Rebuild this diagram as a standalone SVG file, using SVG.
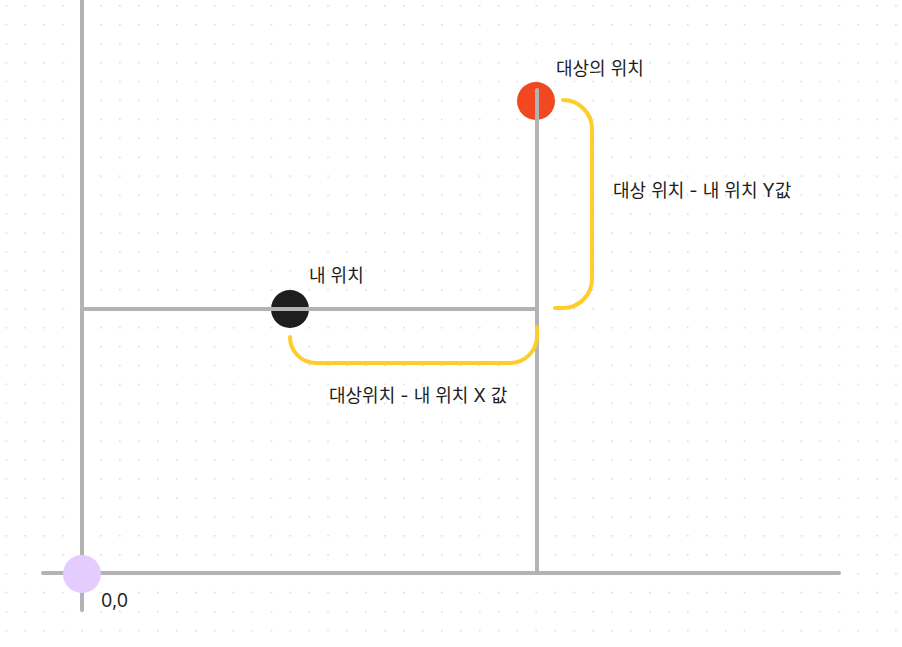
<svg xmlns="http://www.w3.org/2000/svg" width="902" height="647" viewBox="0 0 902 647">
<style>
.ax{stroke:#b3b3b3;stroke-width:4;stroke-linecap:round;fill:none}
.br{stroke:#ffcd29;stroke-width:4;stroke-linecap:round;fill:none}
.t{font-family:Inter,"Noto Sans CJK KR",sans-serif;font-size:18px;fill:#1e1e1e}
</style>
<defs>
<pattern id="dots" x="5.5" y="5" width="18.93" height="18.93" patternUnits="userSpaceOnUse">
<circle cx="0.8" cy="0.8" r="0.9" fill="#d9d9d9"/>
</pattern>
</defs>
<rect width="902" height="647" fill="#ffffff"/>
<rect width="902" height="647" fill="url(#dots)"/>
<g id="connectors">
<line class="ax" x1="82" y1="0" x2="82" y2="610"/>
<line class="ax" x1="43" y1="573" x2="839" y2="573"/>
<line class="ax" x1="82" y1="309" x2="537" y2="309"/>
<line class="ax" x1="537" y1="90" x2="537" y2="573"/>
<path class="br" d="M563 100 A29 29 0 0 1 592 129 V279 A29 29 0 0 1 563 308 H555"/>
<path class="br" d="M290 337 V337 A26 26 0 0 0 316 363 H510 A27 27 0 0 0 537 336 V327"/>
</g>
<g id="target">
<circle cx="536" cy="101" r="19" fill="#f24822"/>
<line class="ax" x1="537" y1="90" x2="537" y2="125"/>
<text class="t" x="556" y="75">대상의 위치</text>
</g>
<g id="me">
<circle cx="290" cy="309" r="19" fill="#1e1e1e"/>
<line class="ax" x1="270" y1="309" x2="310" y2="309"/>
<text class="t" x="309" y="282">내 위치</text>
</g>
<g id="origin">
<circle cx="82" cy="574" r="19" fill="#e4ccff"/>
<text class="t" x="101" y="607">0,0</text>
</g>
<g id="labels">
<text class="t" x="613" y="197">대상 위치 - 내 위치 Y값</text>
<text class="t" x="329" y="402">대상위치 - 내 위치 X 값</text>
</g>
</svg>
